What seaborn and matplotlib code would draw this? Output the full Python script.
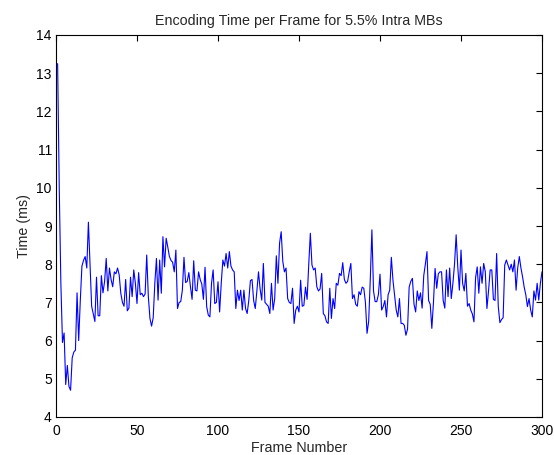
import numpy as np
import pandas as pd
import matplotlib
matplotlib.use("Agg")
import matplotlib.pyplot as plt
import seaborn as sns

# Per-frame encoding time (ms), frames 1..300
time_01_34 = [13.25, 10.0, 7.5, 5.95, 6.2, 4.85, 5.35, 4.8, 4.7, 5.55,
              5.7, 5.75, 7.25, 6.0, 7.05, 7.95, 8.1, 8.2, 7.9, 9.1,
              8.0, 6.9, 6.7, 6.5, 7.66, 6.65, 6.65, 7.7, 7.25, 7.55,
              8.15, 7.3, 7.9, 7.6]
time_35_64 = [7.41, 7.8, 7.75, 7.9, 7.72, 7.24, 7.0, 6.9, 7.6, 6.78,
              6.85, 7.66, 7.15, 7.85, 7.5, 6.97, 7.78, 7.2, 7.24, 7.15,
              7.22, 8.24, 7.15, 6.58, 6.38, 6.6, 7.5, 8.15, 7.06, 8.11]
time_65_95 = [7.24, 8.72, 7.93, 8.68, 8.45, 8.2, 8.1, 8.05, 7.8, 8.37,
              6.84, 7.0, 7.02, 7.32, 8.18, 7.52, 7.55, 7.78, 7.41, 7.08,
              8.09, 7.32, 7.3, 7.8, 7.6, 7.48, 7.08, 7.92, 6.89, 6.67,
              6.62]
time_96_126 = [7.5, 7.85, 6.97, 7.0, 7.54, 6.75, 7.5, 8.11, 7.95, 8.28,
               7.9, 8.33, 7.95, 7.85, 7.8, 6.84, 7.32, 7.05, 7.32, 6.8,
               7.32, 6.84, 6.71, 7.05, 7.57, 7.6, 7.05, 6.84, 7.3, 7.8,
               7.35]
time_127_157 = [7.06, 8.02, 7.0, 6.95, 6.9, 6.71, 7.5, 6.8, 7.1, 8.22,
                7.5, 8.55, 8.85, 8.07, 7.8, 7.9, 7.1, 7.0, 6.97, 7.37,
                6.45, 6.8, 6.9, 6.75, 7.58, 6.9, 6.92, 7.4, 7.08, 7.98,
                8.81]
time_158_188 = [7.98, 7.85, 7.9, 7.41, 7.3, 7.35, 7.76, 6.71, 6.65, 6.49,
                6.45, 7.37, 6.58, 7.1, 6.84, 7.5, 7.45, 7.76, 7.7, 8.04,
                7.6, 7.5, 7.55, 7.8, 8.02, 7.1, 7.2, 6.95, 6.9, 7.28,
                7.2]
time_189_219 = [7.4, 7.37, 7.0, 6.19, 6.5, 7.6, 8.9, 7.3, 7.02, 7.02,
                7.2, 7.74, 6.8, 6.89, 7.05, 6.62, 7.2, 7.32, 8.18, 7.58,
                7.2, 6.8, 6.62, 7.1, 6.45, 6.45, 6.4, 6.14, 6.3, 7.4,
                7.55]
time_220_250 = [7.63, 6.95, 6.75, 7.3, 7.05, 7.25, 6.85, 7.7, 8.0, 8.33,
                7.05, 6.95, 6.32, 7.0, 7.89, 7.37, 7.75, 7.8, 7.8, 7.05,
                6.85, 7.85, 7.15, 7.9, 7.1, 7.5, 8.0, 8.77, 7.93, 7.32,
                8.37]
time_251_280 = [7.5, 7.3, 7.76, 6.9, 6.97, 6.8, 6.7, 6.49, 7.65, 7.93,
                7.24, 7.93, 7.5, 8.02, 7.8, 6.84, 7.3, 7.85, 7.85, 7.08,
                7.05, 8.28, 6.9, 6.47, 6.55, 6.6, 7.98, 8.11, 7.98, 7.85]
time_281_300 = [8.0, 7.8, 8.11, 7.32, 7.9, 8.2, 7.9, 7.67, 7.4, 7.2,
                6.89, 7.1, 6.8, 6.62, 7.3, 7.06, 7.5, 7.06, 7.5, 7.8]

times = (time_01_34 + time_35_64 + time_65_95 + time_96_126 + time_127_157
         + time_158_188 + time_189_219 + time_220_250 + time_251_280
         + time_281_300)
frames = list(range(1, len(times) + 1))

x_ticks = [0, 50, 100, 150, 200, 250, 300]
y_ticks = [4, 5, 6, 7, 8, 9, 10, 11, 12, 13, 14]

df = pd.DataFrame({"Frame Number": frames, "Time (ms)": times})

sns.set_style("white")
plt.rcParams["font.family"] = ["Liberation Sans", "DejaVu Sans"]

fig = plt.figure(figsize=(5.54, 4.55), dpi=100)
ax = fig.add_axes([56 / 554, 1 - 417 / 455, 486 / 554, 382 / 455])

sns.lineplot(data=df, x="Frame Number", y="Time (ms)", color="#0000ff",
             linewidth=0.8, ax=ax)

ax.set_xlim(0, 300)
ax.set_ylim(4, 14)
ax.set_xticks(x_ticks)
ax.set_yticks(y_ticks)
ax.tick_params(direction="in", length=4.5, width=0.8, top=True, right=True,
               labelsize=10, colors="black", pad=3)
ax.tick_params(axis="x", pad=5)
for side in ax.spines.values():
    side.set_visible(True)
    side.set_color("black")
    side.set_linewidth(0.8)

ax.set_title("Encoding Time per Frame for 5.5% Intra MBs", fontsize=10.3, pad=7)
ax.set_xlabel("Frame Number", fontsize=10.3, labelpad=2)
ax.set_ylabel("Time (ms)", fontsize=10.3, labelpad=4)

fig.savefig("out.png", dpi=100)
